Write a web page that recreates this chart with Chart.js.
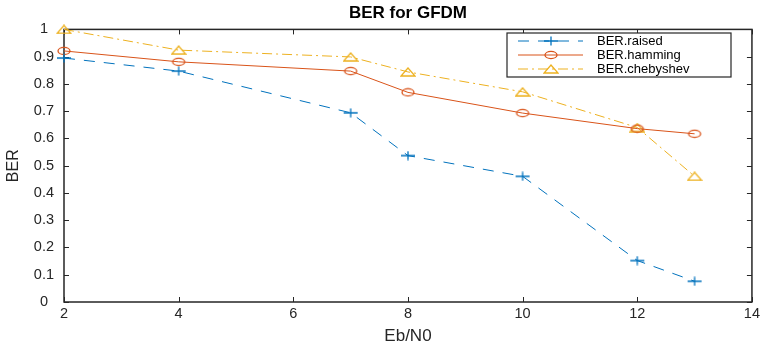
<!DOCTYPE html>
<html>
<head>
<meta charset="utf-8">
<script src="https://cdn.jsdelivr.net/npm/chart.js@4.4.0/dist/chart.umd.min.js"></script>
<style>
html, body { margin: 0; padding: 0; background: #fff; }
#wrap { width: 763px; height: 351px; }
</style>
</head>
<body>
<div id="wrap"><canvas id="mycanvas"></canvas></div>
<script>
// values
var ebno = [2, 4, 7, 8, 10, 12, 13];
var berRaised = [0.895, 0.847, 0.694, 0.537, 0.461, 0.152, 0.076];
var berHamming = [0.921, 0.881, 0.847, 0.769, 0.693, 0.636, 0.617];
var berCheby = [1.0, 0.924, 0.899, 0.844, 0.771, 0.640, 0.461];
var seriesNames = ['BER.raised', 'BER.hamming', 'BER.chebyshev'];
var xTicks = [2, 4, 6, 8, 10, 12, 14];
var yTicks = [0, 0.1, 0.2, 0.3, 0.4, 0.5, 0.6, 0.7, 0.8, 0.9, 1];

var BLUE = '#0072BD', ORANGE = '#D95319', YELLOW = '#EDB120';
var AXIS = '#262626';

Chart.defaults.font.family = '"Liberation Sans", Arial, Helvetica, sans-serif';
Chart.defaults.color = AXIS;

function makeMarker(kind, color) {
	var c = document.createElement('canvas');
	var w = 16, h = 10;
	c.width = w; c.height = h;
	var g = c.getContext('2d');
	g.strokeStyle = color;
	g.lineWidth = 1.3;
	g.beginPath();
	if (kind == 'plus') {
		g.moveTo(1, h / 2); g.lineTo(w - 1, h / 2);
		g.moveTo(w / 2, 0.5); g.lineTo(w / 2, h - 0.5);
	} else if (kind == 'ellipse') {
		g.ellipse(w / 2, h / 2, 6, 3.6, 0, 0, Math.PI * 2);
	} else {
		g.moveTo(1, h - 1); g.lineTo(w - 1, h - 1); g.lineTo(w / 2, 1); g.closePath();
	}
	g.stroke();
	return c;
}

function pts(ys) {
	var out = [];
	for (var i in ebno) out.push({ x: ebno[i], y: ys[i] });
	return out;
}

// frame with inward tick marks, like a matlab "box on" axes
var boxAxes = {
	id: 'boxAxes',
	beforeDatasetsDraw: function(chart) {
		var a = chart.chartArea, ctx = chart.ctx;
		var xs = chart.scales.x, ys = chart.scales.y;
		var tl = 5;
		ctx.save();
		ctx.strokeStyle = AXIS;
		ctx.lineWidth = 1.5;
		ctx.strokeRect(a.left, a.top, a.right - a.left, a.bottom - a.top);
		ctx.lineWidth = 1;
		ctx.beginPath();
		xs.ticks.forEach(function(t) {
			var px = Math.round(xs.getPixelForValue(t.value)) + 0.5;
			ctx.moveTo(px, a.bottom); ctx.lineTo(px, a.bottom - tl);
			ctx.moveTo(px, a.top); ctx.lineTo(px, a.top + tl);
		});
		ys.ticks.forEach(function(t) {
			var py = Math.round(ys.getPixelForValue(t.value)) + 0.5;
			ctx.moveTo(a.left, py); ctx.lineTo(a.left + tl, py);
			ctx.moveTo(a.right, py); ctx.lineTo(a.right - tl, py);
		});
		ctx.stroke();
		ctx.restore();
	}
};

// legend box in the upper right of the axes
var boxLegend = {
	id: 'boxLegend',
	afterDraw: function(chart) {
		var ctx = chart.ctx;
		var x0 = 507, y0 = 33, w = 224, h = 44;
		ctx.save();
		ctx.fillStyle = '#fff';
		ctx.fillRect(x0, y0, w, h);
		ctx.strokeStyle = AXIS;
		ctx.lineWidth = 1.2;
		ctx.strokeRect(x0, y0, w, h);
		chart.data.datasets.forEach(function(ds, i) {
			var y = y0 + 8 + i * 14;
			ctx.strokeStyle = ds.borderColor;
			ctx.lineWidth = ds.borderWidth;
			ctx.setLineDash(ds.borderDash || []);
			ctx.beginPath();
			ctx.moveTo(x0 + 11, y); ctx.lineTo(x0 + 76, y);
			ctx.stroke();
			ctx.setLineDash([]);
			var m = ds.pointStyle;
			ctx.drawImage(m, x0 + 44 - m.width / 2, y - m.height / 2);
			ctx.fillStyle = '#000';
			ctx.font = '13px "Liberation Sans", Arial, sans-serif';
			ctx.textBaseline = 'middle';
			ctx.fillText(ds.label, x0 + 90, y + 0.5);
		});
		ctx.restore();
	}
};

var chartdata = {
	datasets: [
		{
			label: seriesNames[0],
			data: pts(berRaised),
			borderColor: BLUE,
			backgroundColor: BLUE,
			borderWidth: 1,
			borderDash: [11, 9],
			pointStyle: makeMarker('plus', BLUE),
			clip: false
		},
		{
			label: seriesNames[1],
			data: pts(berHamming),
			borderColor: ORANGE,
			backgroundColor: ORANGE,
			borderWidth: 1,
			pointStyle: makeMarker('ellipse', ORANGE),
			clip: false
		},
		{
			label: seriesNames[2],
			data: pts(berCheby),
			borderColor: YELLOW,
			backgroundColor: YELLOW,
			borderWidth: 1,
			borderDash: [10, 4, 2, 4],
			pointStyle: makeMarker('triangle', YELLOW),
			clip: false
		}
	]
};

var ctx = document.getElementById('mycanvas');

var berChart = new Chart(ctx, {
	type: 'line',
	data: chartdata,
	options: {
		responsive: true,
		maintainAspectRatio: false,
		animation: false,
		events: [],
		layout: { padding: { left: 4, right: 10, top: 0, bottom: 0 } },
		plugins: {
			legend: { display: false },
			tooltip: { enabled: false },
			title: {
				display: true,
				text: 'BER for GFDM',
				color: '#000',
				fullSize: false,
				font: { size: 17, weight: 'bold' },
				padding: { top: 3, bottom: 6 }
			}
		},
		scales: {
			x: {
				type: 'linear',
				min: xTicks[0],
				max: xTicks[xTicks.length - 1],
				afterBuildTicks: function(s) { s.ticks = xTicks.map(function(v) { return { value: v }; }); },
				afterFit: function(s) { s.height = 49; },
				ticks: { font: { size: 14.5 }, color: AXIS, padding: 3, maxRotation: 0 },
				grid: { display: false, drawTicks: false },
				border: { display: false },
				title: { display: true, text: 'Eb/N0', color: AXIS, font: { size: 17 }, padding: { top: 0, bottom: 4 } }
			},
			y: {
				min: yTicks[0],
				max: yTicks[yTicks.length - 1],
				afterBuildTicks: function(s) { s.ticks = yTicks.map(function(v) { return { value: v }; }); },
				afterFit: function(s) { s.width = 60; },
				ticks: {
					font: { size: 14.5 },
					color: AXIS,
					padding: 10,
					crossAlign: 'center',
					callback: function(v) { return (v == 0 || v == 1) ? String(v) : v.toFixed(1); }
				},
				grid: { display: false, drawTicks: false },
				border: { display: false },
				title: { display: true, text: 'BER', color: AXIS, font: { size: 16 }, padding: { top: 0, bottom: 0 } }
			}
		}
	},
	plugins: [boxAxes, boxLegend]
});
</script>
</body>
</html>
